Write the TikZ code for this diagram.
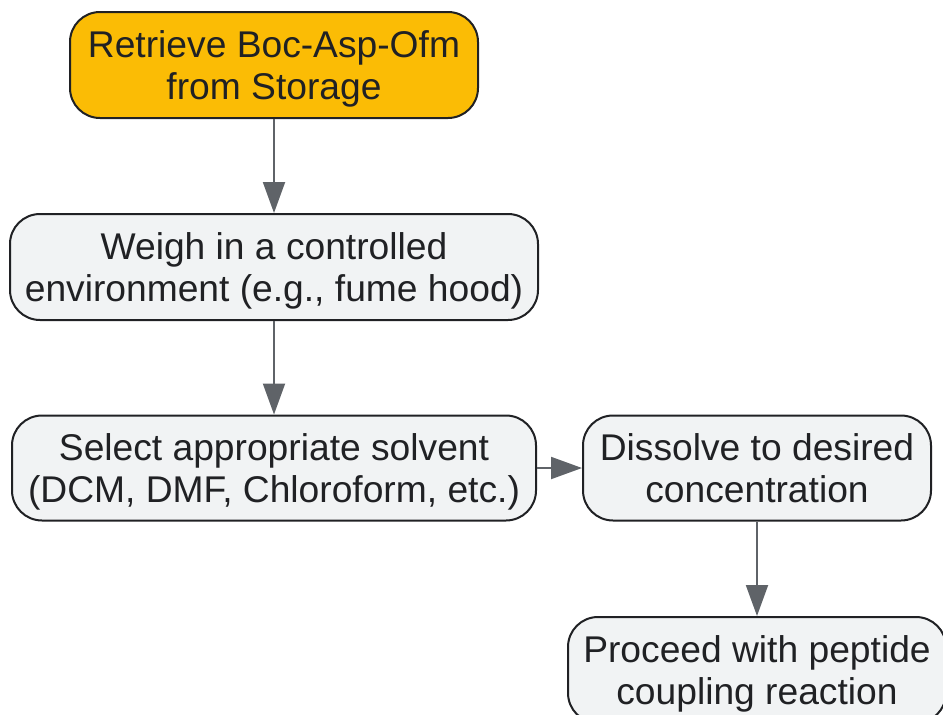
\documentclass[tikz,border=0pt]{standalone}
\usepackage{fontspec}
\setmainfont{Liberation Sans}
\usetikzlibrary{arrows.meta}
\definecolor{stepfill}{HTML}{F1F3F4}
\definecolor{startfill}{HTML}{FBBC05}
\definecolor{edgegray}{HTML}{5F6368}
\definecolor{inkdark}{HTML}{202124}
\begin{document}
\begin{tikzpicture}[x=1pt, y=1pt,
        stepbox/.style={draw=inkdark, line width=2pt, rounded corners=30pt, fill=stepfill,
            text=inkdark, align=center, inner sep=0pt, text depth=-4pt,
            font=\fontsize{37.2}{42}\selectfont},
        startbox/.style={stepbox, fill=startfill},
        flow/.style={draw=edgegray, line width=2pt, -{Triangle[length=31pt, width=22pt]}}
    ]
    \useasboundingbox (0,0) rectangle (943,-715);

    % --- colonna sinistra ---
    \node[startbox, minimum width=408pt, minimum height=106pt] (retrieve) at (274,-65)
        {Retrieve Boc-Asp-Ofm\\from Storage};
    \node[stepbox, minimum width=528pt, minimum height=106pt] (weigh) at (274,-267)
        {Weigh in a controlled\\environment (e.g., fume hood)};
    \node[stepbox, minimum width=524pt, minimum height=105pt] (solvent) at (274,-468)
        {Select appropriate solvent\\(DCM, DMF, Chloroform, etc.)};

    % --- colonna destra ---
    \node[stepbox, minimum width=348pt, minimum height=105pt] (dissolve) at (757,-468)
        {Dissolve to desired\\concentration};
    \node[stepbox, minimum width=378pt, minimum height=106pt] (coupling) at (757,-670)
        {Proceed with peptide\\coupling reaction};

    % frecce
    \draw[flow] (retrieve) -- (weigh);
    \draw[flow] (weigh) -- (solvent);
    \draw[flow] (solvent) -- (dissolve);
    \draw[flow] (dissolve) -- (coupling);

\end{tikzpicture}
\end{document}
